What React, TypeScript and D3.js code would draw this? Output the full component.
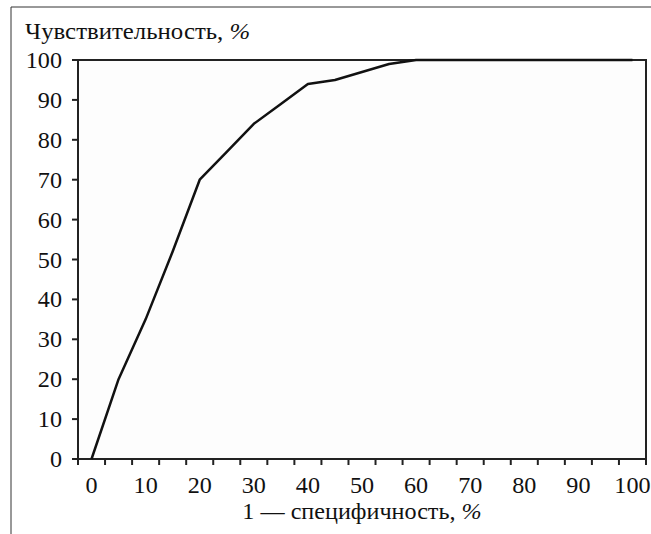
import React from 'react';
import * as d3 from 'd3';

// 1 - specificity, % (category axis, step 5)
const fpr = [0, 5, 10, 15, 20, 25, 30, 35, 40, 45, 50, 55, 60, 65, 70, 75, 80, 85, 90, 95, 100];
// sensitivity, %
const sensitivity = [0, 20, 35, 52, 70, 77, 84, 89, 94, 95, 97, 99, 100, 100, 100, 100, 100, 100, 100, 100, 100];
const yTicks = [0, 10, 20, 30, 40, 50, 60, 70, 80, 90, 100];

const yTitle = 'Чувствительность, ';
const xTitle = '1 — специфичность, ';

const W = 651;
const H = 534;
const margin = { top: 60, right: 5, bottom: 75, left: 78 };
const txt = { fontFamily: 'Liberation Serif, Times New Roman, serif', fontSize: 23, fill: '#111' };

// text slightly stretched horizontally, like the scanned original
const T = ({ x, y, sx = 1.05, anchor = 'start', dy = '0', children }: any) => (
  <text transform={`translate(${x},${y}) scale(${sx},1)`} dy={dy} textAnchor={anchor} style={txt}>
    {children}
  </text>
);

const App = () => {
  const x = d3.scaleBand<number>()
    .domain(fpr)
    .range([margin.left, W - margin.right])
    .padding(0);

  const y = d3.scaleLinear()
    .domain([0, 100])
    .range([H - margin.bottom, margin.top]);

  const line = d3.line<number>()
    .x((d, i) => (x(fpr[i]) as number) + x.bandwidth() / 2)
    .y(d => y(d));

  const x0 = margin.left;
  const x1 = W - margin.right;
  const yb = y(0);
  const yt = y(100);

  // tick marks sit on the band edges, labels every other band
  const xEdges = fpr.map(c => x(c) as number).concat([x1]);

  return (
    <svg width={W} height={H} style={{ position: 'absolute', left: 0, top: 0, background: '#fff' }}>
      {/* outer frame */}
      <line x1={11} y1={7} x2={W} y2={7} stroke="#333" strokeWidth={1} />
      <line x1={11} y1={7} x2={11} y2={H} stroke="#333" strokeWidth={1} />

      {/* plot box */}
      <rect x={x0} y={yt} width={x1 - x0} height={yb - yt} fill="#fdfdfd" stroke="#222" strokeWidth={2} />

      {/* y axis */}
      {yTicks.map(t => (
        <g key={'y' + t}>
          <line x1={x0 - 6} x2={x0} y1={y(t)} y2={y(t)} stroke="#222" strokeWidth={2} />
          <T x={62} y={y(t)} dy="0.35em" anchor="end">{t}</T>
        </g>
      ))}

      {/* x axis */}
      {xEdges.map((e, i) => (
        <line key={'xt' + i} x1={e} x2={e} y1={yb} y2={yb + 6} stroke="#222" strokeWidth={2} />
      ))}
      {fpr.filter(c => c % 10 === 0).map(c => (
        <T key={'xl' + c} x={(x(c) as number) + x.bandwidth() / 2} y={493} anchor="middle">{c}</T>
      ))}

      {/* curve */}
      <path d={line(sensitivity) || ''} fill="none" stroke="#111" strokeWidth={2.5} strokeLinejoin="round" />

      {/* titles */}
      <T x={25} y={39} sx={1.08}>
        {yTitle}<tspan fontStyle="italic">%</tspan>
      </T>
      <T x={(x0 + x1) / 2} y={519} sx={1.05} anchor="middle">
        {xTitle}<tspan fontStyle="italic">%</tspan>
      </T>
    </svg>
  );
};

export default App;
